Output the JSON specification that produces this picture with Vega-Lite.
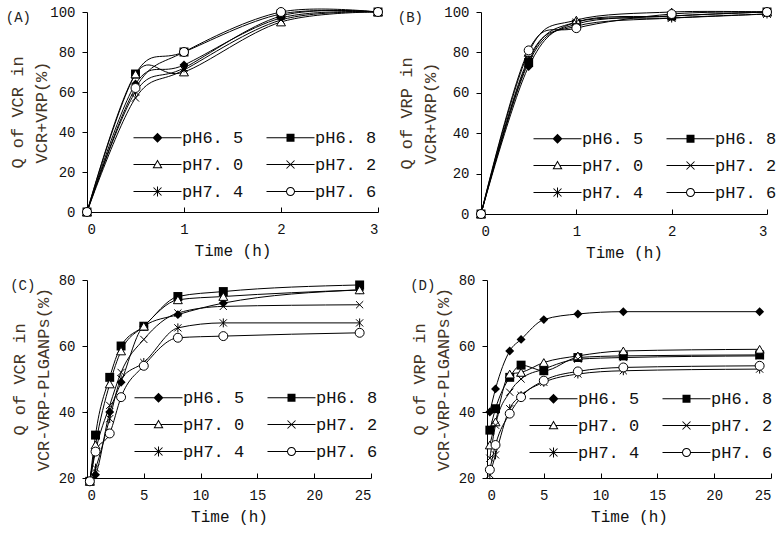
{
  "$schema": "https://vega.github.io/schema/vega-lite/v6.json",
  "background": "white",
  "padding": 5,
  "datasets": {
    "d": [
      {"panel":"A","pH":"pH6. 5","t":0,"q":0},{"panel":"A","pH":"pH6. 5","t":0.5,"q":64},{"panel":"A","pH":"pH6. 5","t":1,"q":73.5},{"panel":"A","pH":"pH6. 5","t":2,"q":97},{"panel":"A","pH":"pH6. 5","t":3,"q":100},
      {"panel":"A","pH":"pH6. 8","t":0,"q":0},{"panel":"A","pH":"pH6. 8","t":0.5,"q":69},{"panel":"A","pH":"pH6. 8","t":1,"q":80},{"panel":"A","pH":"pH6. 8","t":2,"q":99},{"panel":"A","pH":"pH6. 8","t":3,"q":100},
      {"panel":"A","pH":"pH7. 0","t":0,"q":0},{"panel":"A","pH":"pH7. 0","t":0.5,"q":69},{"panel":"A","pH":"pH7. 0","t":1,"q":70},{"panel":"A","pH":"pH7. 0","t":2,"q":95},{"panel":"A","pH":"pH7. 0","t":3,"q":100},
      {"panel":"A","pH":"pH7. 2","t":0,"q":0},{"panel":"A","pH":"pH7. 2","t":0.5,"q":57},{"panel":"A","pH":"pH7. 2","t":1,"q":71},{"panel":"A","pH":"pH7. 2","t":2,"q":96},{"panel":"A","pH":"pH7. 2","t":3,"q":100},
      {"panel":"A","pH":"pH7. 4","t":0,"q":0},{"panel":"A","pH":"pH7. 4","t":0.5,"q":60},{"panel":"A","pH":"pH7. 4","t":1,"q":72},{"panel":"A","pH":"pH7. 4","t":2,"q":98},{"panel":"A","pH":"pH7. 4","t":3,"q":100},
      {"panel":"A","pH":"pH7. 6","t":0,"q":0},{"panel":"A","pH":"pH7. 6","t":0.5,"q":62},{"panel":"A","pH":"pH7. 6","t":1,"q":80},{"panel":"A","pH":"pH7. 6","t":2,"q":100},{"panel":"A","pH":"pH7. 6","t":3,"q":100},

      {"panel":"B","pH":"pH6. 5","t":0,"q":0},{"panel":"B","pH":"pH6. 5","t":0.5,"q":73},{"panel":"B","pH":"pH6. 5","t":1,"q":95},{"panel":"B","pH":"pH6. 5","t":2,"q":98},{"panel":"B","pH":"pH6. 5","t":3,"q":100},
      {"panel":"B","pH":"pH6. 8","t":0,"q":0},{"panel":"B","pH":"pH6. 8","t":0.5,"q":75},{"panel":"B","pH":"pH6. 8","t":1,"q":94},{"panel":"B","pH":"pH6. 8","t":2,"q":98},{"panel":"B","pH":"pH6. 8","t":3,"q":100},
      {"panel":"B","pH":"pH7. 0","t":0,"q":0},{"panel":"B","pH":"pH7. 0","t":0.5,"q":80},{"panel":"B","pH":"pH7. 0","t":1,"q":96},{"panel":"B","pH":"pH7. 0","t":2,"q":100},{"panel":"B","pH":"pH7. 0","t":3,"q":100},
      {"panel":"B","pH":"pH7. 2","t":0,"q":0},{"panel":"B","pH":"pH7. 2","t":0.5,"q":77},{"panel":"B","pH":"pH7. 2","t":1,"q":93},{"panel":"B","pH":"pH7. 2","t":2,"q":97},{"panel":"B","pH":"pH7. 2","t":3,"q":99},
      {"panel":"B","pH":"pH7. 4","t":0,"q":0},{"panel":"B","pH":"pH7. 4","t":0.5,"q":76},{"panel":"B","pH":"pH7. 4","t":1,"q":95},{"panel":"B","pH":"pH7. 4","t":2,"q":97},{"panel":"B","pH":"pH7. 4","t":3,"q":99},
      {"panel":"B","pH":"pH7. 6","t":0,"q":0},{"panel":"B","pH":"pH7. 6","t":0.5,"q":81},{"panel":"B","pH":"pH7. 6","t":1,"q":92},{"panel":"B","pH":"pH7. 6","t":2,"q":99},{"panel":"B","pH":"pH7. 6","t":3,"q":100},

      {"panel":"C","pH":"pH6. 5","t":0.25,"q":19},{"panel":"C","pH":"pH6. 5","t":0.75,"q":21},{"panel":"C","pH":"pH6. 5","t":2,"q":40},{"panel":"C","pH":"pH6. 5","t":3,"q":49},{"panel":"C","pH":"pH6. 5","t":5,"q":66},{"panel":"C","pH":"pH6. 5","t":8,"q":69.5},{"panel":"C","pH":"pH6. 5","t":12,"q":73},{"panel":"C","pH":"pH6. 5","t":24,"q":77},
      {"panel":"C","pH":"pH6. 8","t":0.25,"q":19},{"panel":"C","pH":"pH6. 8","t":0.75,"q":33},{"panel":"C","pH":"pH6. 8","t":2,"q":50.5},{"panel":"C","pH":"pH6. 8","t":3,"q":60},{"panel":"C","pH":"pH6. 8","t":5,"q":66},{"panel":"C","pH":"pH6. 8","t":8,"q":75},{"panel":"C","pH":"pH6. 8","t":12,"q":76.5},{"panel":"C","pH":"pH6. 8","t":24,"q":78.5},
      {"panel":"C","pH":"pH7. 0","t":0.25,"q":19},{"panel":"C","pH":"pH7. 0","t":0.75,"q":30},{"panel":"C","pH":"pH7. 0","t":2,"q":48.5},{"panel":"C","pH":"pH7. 0","t":3,"q":58.5},{"panel":"C","pH":"pH7. 0","t":5,"q":66},{"panel":"C","pH":"pH7. 0","t":8,"q":74},{"panel":"C","pH":"pH7. 0","t":12,"q":75},{"panel":"C","pH":"pH7. 0","t":24,"q":77},
      {"panel":"C","pH":"pH7. 2","t":0.25,"q":19},{"panel":"C","pH":"pH7. 2","t":0.75,"q":28},{"panel":"C","pH":"pH7. 2","t":2,"q":42},{"panel":"C","pH":"pH7. 2","t":3,"q":52},{"panel":"C","pH":"pH7. 2","t":5,"q":62},{"panel":"C","pH":"pH7. 2","t":8,"q":70},{"panel":"C","pH":"pH7. 2","t":12,"q":72},{"panel":"C","pH":"pH7. 2","t":24,"q":72.5},
      {"panel":"C","pH":"pH7. 4","t":0.25,"q":19},{"panel":"C","pH":"pH7. 4","t":0.75,"q":23},{"panel":"C","pH":"pH7. 4","t":2,"q":38},{"panel":"C","pH":"pH7. 4","t":3,"q":50},{"panel":"C","pH":"pH7. 4","t":5,"q":55},{"panel":"C","pH":"pH7. 4","t":8,"q":65.5},{"panel":"C","pH":"pH7. 4","t":12,"q":67},{"panel":"C","pH":"pH7. 4","t":24,"q":67},
      {"panel":"C","pH":"pH7. 6","t":0.25,"q":19},{"panel":"C","pH":"pH7. 6","t":0.75,"q":28},{"panel":"C","pH":"pH7. 6","t":2,"q":33.5},{"panel":"C","pH":"pH7. 6","t":3,"q":44.5},{"panel":"C","pH":"pH7. 6","t":5,"q":54},{"panel":"C","pH":"pH7. 6","t":8,"q":62.5},{"panel":"C","pH":"pH7. 6","t":12,"q":63},{"panel":"C","pH":"pH7. 6","t":24,"q":64},

      {"panel":"D","pH":"pH6. 5","t":0.25,"q":40},{"panel":"D","pH":"pH6. 5","t":0.75,"q":47},{"panel":"D","pH":"pH6. 5","t":2,"q":58.5},{"panel":"D","pH":"pH6. 5","t":3,"q":62},{"panel":"D","pH":"pH6. 5","t":5,"q":68},{"panel":"D","pH":"pH6. 5","t":8,"q":69.7},{"panel":"D","pH":"pH6. 5","t":12,"q":70.4},{"panel":"D","pH":"pH6. 5","t":24,"q":70.4},
      {"panel":"D","pH":"pH6. 8","t":0.25,"q":34.5},{"panel":"D","pH":"pH6. 8","t":0.75,"q":41},{"panel":"D","pH":"pH6. 8","t":2,"q":50.5},{"panel":"D","pH":"pH6. 8","t":3,"q":54.2},{"panel":"D","pH":"pH6. 8","t":5,"q":52.5},{"panel":"D","pH":"pH6. 8","t":8,"q":56.5},{"panel":"D","pH":"pH6. 8","t":12,"q":57},{"panel":"D","pH":"pH6. 8","t":24,"q":57.3},
      {"panel":"D","pH":"pH7. 0","t":0.25,"q":30},{"panel":"D","pH":"pH7. 0","t":0.75,"q":37},{"panel":"D","pH":"pH7. 0","t":2,"q":51.5},{"panel":"D","pH":"pH7. 0","t":3,"q":52},{"panel":"D","pH":"pH7. 0","t":5,"q":55},{"panel":"D","pH":"pH7. 0","t":8,"q":57},{"panel":"D","pH":"pH7. 0","t":12,"q":58.5},{"panel":"D","pH":"pH7. 0","t":24,"q":59},
      {"panel":"D","pH":"pH7. 2","t":0.25,"q":26},{"panel":"D","pH":"pH7. 2","t":0.75,"q":36},{"panel":"D","pH":"pH7. 2","t":2,"q":46},{"panel":"D","pH":"pH7. 2","t":3,"q":50},{"panel":"D","pH":"pH7. 2","t":5,"q":53},{"panel":"D","pH":"pH7. 2","t":8,"q":56},{"panel":"D","pH":"pH7. 2","t":12,"q":56.5},{"panel":"D","pH":"pH7. 2","t":24,"q":57},
      {"panel":"D","pH":"pH7. 4","t":0.25,"q":21},{"panel":"D","pH":"pH7. 4","t":0.75,"q":27},{"panel":"D","pH":"pH7. 4","t":2,"q":41},{"panel":"D","pH":"pH7. 4","t":3,"q":45},{"panel":"D","pH":"pH7. 4","t":5,"q":49},{"panel":"D","pH":"pH7. 4","t":8,"q":51.5},{"panel":"D","pH":"pH7. 4","t":12,"q":52.5},{"panel":"D","pH":"pH7. 4","t":24,"q":53},
      {"panel":"D","pH":"pH7. 6","t":0.25,"q":22.5},{"panel":"D","pH":"pH7. 6","t":0.75,"q":30},{"panel":"D","pH":"pH7. 6","t":2,"q":39.5},{"panel":"D","pH":"pH7. 6","t":3,"q":44.5},{"panel":"D","pH":"pH7. 6","t":5,"q":49.5},{"panel":"D","pH":"pH7. 6","t":8,"q":52.3},{"panel":"D","pH":"pH7. 6","t":12,"q":53.5},{"panel":"D","pH":"pH7. 6","t":24,"q":54}
    ]
  },
  "vconcat": [
    {
      "hconcat": [
        {
          "title": {"text": "(A)", "dx": -3},
          "width": 291, "height": 200,
          "data": {"name": "d"},
          "transform": [{"filter": "datum.panel == 'A'"}],
          "encoding": {
            "x": {"field": "t", "type": "quantitative", "scale": {"domain": [0, 3]}, "axis": {"values": [0, 1, 2, 3], "title": "Time (h)"}},
            "y": {"field": "q", "type": "quantitative", "scale": {"domain": [0, 100]}, "axis": {"values": [0, 20, 40, 60, 80, 100], "title": ["Q of VCR in", "VCR+VRP(%)"], "titlePadding": -1}}
          },
          "layer": [
            {"mark": {"type": "line", "interpolate": "cardinal", "color": "black", "strokeWidth": 1}, "encoding": {"detail": {"field": "pH"}}},
            {"transform": [{"filter": "datum.pH == 'pH6. 5'"}], "mark": {"type": "point", "shape": "diamond", "filled": true, "color": "black", "size": 80, "opacity": 1}},
            {"transform": [{"filter": "datum.pH == 'pH6. 8'"}], "mark": {"type": "point", "shape": "square", "filled": true, "color": "black", "size": 80, "opacity": 1}},
            {"transform": [{"filter": "datum.pH == 'pH7. 0'"}], "mark": {"type": "point", "shape": "triangle-up", "filled": true, "fill": "white", "stroke": "black", "strokeWidth": 1, "size": 80, "opacity": 1}},
            {"transform": [{"filter": "datum.pH == 'pH7. 2'"}], "mark": {"type": "point", "shape": "M-0.8,-0.8L0.8,0.8M-0.8,0.8L0.8,-0.8", "filled": false, "stroke": "black", "strokeWidth": 1, "size": 80, "opacity": 1}},
            {"transform": [{"filter": "datum.pH == 'pH7. 4'"}], "mark": {"type": "point", "shape": "M0,-1V1M-0.8,-0.8L0.8,0.8M-0.8,0.8L0.8,-0.8", "filled": false, "stroke": "black", "strokeWidth": 1, "size": 80, "opacity": 1}},
            {"transform": [{"filter": "datum.pH == 'pH7. 6'"}], "mark": {"type": "point", "shape": "circle", "filled": true, "fill": "white", "stroke": "black", "strokeWidth": 1, "size": 80, "opacity": 1}},
            {"transform": [{"filter": "false"}],
             "mark": {"type": "point", "filled": true, "color": "black", "opacity": 1},
             "encoding": {
               "shape": {"field": "pH", "type": "nominal", "title": null, "scale": {"domain": ["pH6. 5","pH6. 8","pH7. 0","pH7. 2","pH7. 4","pH7. 6"], "range": [
                 "M-4.8,-0.1H4.8V0.1H-4.8ZM0,-1L1,0L0,1L-1,0Z",
                 "M-4.8,-0.1H4.8V0.1H-4.8ZM-0.8,-0.8H0.8V0.8H-0.8Z",
                 "M-4.8,-0.1H-0.52V0.1H-4.8ZM0.52,-0.1H4.8V0.1H0.52ZM0,-1L1,0.75H-1ZM0,-0.6L-0.655,0.55H0.655Z",
                 "M-4.8,-0.1H4.8V0.1H-4.8ZM-0.73,-0.87L0.87,0.73L0.73,0.87L-0.87,-0.73ZM-0.87,0.73L0.73,-0.87L0.87,-0.73L-0.73,0.87Z",
                 "M-4.8,-0.1H4.8V0.1H-4.8ZM-0.1,-1H0.1V1H-0.1ZM-0.73,-0.87L0.87,0.73L0.73,0.87L-0.87,-0.73ZM-0.87,0.73L0.73,-0.87L0.87,-0.73L-0.73,0.87Z",
                 "M-4.8,-0.1H-0.88V0.1H-4.8ZM0.88,-0.1H4.8V0.1H0.88ZM0.9,0A0.9,0.9 0 1,1 -0.9,0A0.9,0.9 0 1,1 0.9,0ZM0.7,0A0.7,0.7 0 1,0 -0.7,0A0.7,0.7 0 1,0 0.7,0Z"]},
                 "legend": {"orient": "none", "legendX": 38, "legendY": 117, "columns": 2, "direction": "horizontal"}}
             }}
          ]
        },
        {
          "title": {"text": "(B)"},
          "width": 286, "height": 202,
          "data": {"name": "d"},
          "transform": [{"filter": "datum.panel == 'B'"}],
          "encoding": {
            "x": {"field": "t", "type": "quantitative", "scale": {"domain": [0, 3]}, "axis": {"values": [0, 1, 2, 3], "title": "Time (h)"}},
            "y": {"field": "q", "type": "quantitative", "scale": {"domain": [0, 100]}, "axis": {"values": [0, 20, 40, 60, 80, 100], "title": ["Q of VRP in", "VCR+VRP(%)"], "titlePadding": 4}}
          },
          "layer": [
            {"mark": {"type": "line", "interpolate": "cardinal", "color": "black", "strokeWidth": 1}, "encoding": {"detail": {"field": "pH"}}},
            {"transform": [{"filter": "datum.pH == 'pH6. 5'"}], "mark": {"type": "point", "shape": "diamond", "filled": true, "color": "black", "size": 80, "opacity": 1}},
            {"transform": [{"filter": "datum.pH == 'pH6. 8'"}], "mark": {"type": "point", "shape": "square", "filled": true, "color": "black", "size": 80, "opacity": 1}},
            {"transform": [{"filter": "datum.pH == 'pH7. 0'"}], "mark": {"type": "point", "shape": "triangle-up", "filled": true, "fill": "white", "stroke": "black", "strokeWidth": 1, "size": 80, "opacity": 1}},
            {"transform": [{"filter": "datum.pH == 'pH7. 2'"}], "mark": {"type": "point", "shape": "M-0.8,-0.8L0.8,0.8M-0.8,0.8L0.8,-0.8", "filled": false, "stroke": "black", "strokeWidth": 1, "size": 80, "opacity": 1}},
            {"transform": [{"filter": "datum.pH == 'pH7. 4'"}], "mark": {"type": "point", "shape": "M0,-1V1M-0.8,-0.8L0.8,0.8M-0.8,0.8L0.8,-0.8", "filled": false, "stroke": "black", "strokeWidth": 1, "size": 80, "opacity": 1}},
            {"transform": [{"filter": "datum.pH == 'pH7. 6'"}], "mark": {"type": "point", "shape": "circle", "filled": true, "fill": "white", "stroke": "black", "strokeWidth": 1, "size": 80, "opacity": 1}},
            {"transform": [{"filter": "false"}],
             "mark": {"type": "point", "filled": true, "color": "black", "opacity": 1},
             "encoding": {
               "shape": {"field": "pH", "type": "nominal", "title": null, "scale": {"domain": ["pH6. 5","pH6. 8","pH7. 0","pH7. 2","pH7. 4","pH7. 6"], "range": [
                 "M-4.8,-0.1H4.8V0.1H-4.8ZM0,-1L1,0L0,1L-1,0Z",
                 "M-4.8,-0.1H4.8V0.1H-4.8ZM-0.8,-0.8H0.8V0.8H-0.8Z",
                 "M-4.8,-0.1H-0.52V0.1H-4.8ZM0.52,-0.1H4.8V0.1H0.52ZM0,-1L1,0.75H-1ZM0,-0.6L-0.655,0.55H0.655Z",
                 "M-4.8,-0.1H4.8V0.1H-4.8ZM-0.73,-0.87L0.87,0.73L0.73,0.87L-0.87,-0.73ZM-0.87,0.73L0.73,-0.87L0.87,-0.73L-0.73,0.87Z",
                 "M-4.8,-0.1H4.8V0.1H-4.8ZM-0.1,-1H0.1V1H-0.1ZM-0.73,-0.87L0.87,0.73L0.73,0.87L-0.87,-0.73ZM-0.87,0.73L0.73,-0.87L0.87,-0.73L-0.73,0.87Z",
                 "M-4.8,-0.1H-0.88V0.1H-4.8ZM0.88,-0.1H4.8V0.1H0.88ZM0.9,0A0.9,0.9 0 1,1 -0.9,0A0.9,0.9 0 1,1 0.9,0ZM0.7,0A0.7,0.7 0 1,0 -0.7,0A0.7,0.7 0 1,0 0.7,0Z"]},
                 "legend": {"orient": "none", "legendX": 44, "legendY": 118, "columns": 2, "direction": "horizontal"}}
             }}
          ]
        }
      ],
      "spacing": 12,
      "resolve": {"scale": {"shape": "independent"}, "legend": {"shape": "independent"}}
    },
    {
      "hconcat": [
        {
          "title": {"text": "(C)"},
          "width": 284, "height": 198,
          "data": {"name": "d"},
          "transform": [{"filter": "datum.panel == 'C'"}],
          "encoding": {
            "x": {"field": "t", "type": "quantitative", "scale": {"domain": [0, 25]}, "axis": {"values": [0, 5, 10, 15, 20, 25], "title": "Time (h)"}},
            "y": {"field": "q", "type": "quantitative", "scale": {"domain": [20, 80]}, "axis": {"values": [20, 40, 60, 80], "title": ["Q of VCR in", "VCR-VRP-PLGANPs(%)"], "titlePadding": 6}}
          },
          "layer": [
            {"mark": {"type": "line", "interpolate": "monotone", "color": "black", "strokeWidth": 1}, "encoding": {"detail": {"field": "pH"}}},
            {"transform": [{"filter": "datum.pH == 'pH6. 5'"}], "mark": {"type": "point", "shape": "diamond", "filled": true, "color": "black", "size": 80, "opacity": 1}},
            {"transform": [{"filter": "datum.pH == 'pH6. 8'"}], "mark": {"type": "point", "shape": "square", "filled": true, "color": "black", "size": 80, "opacity": 1}},
            {"transform": [{"filter": "datum.pH == 'pH7. 0'"}], "mark": {"type": "point", "shape": "triangle-up", "filled": true, "fill": "white", "stroke": "black", "strokeWidth": 1, "size": 80, "opacity": 1}},
            {"transform": [{"filter": "datum.pH == 'pH7. 2'"}], "mark": {"type": "point", "shape": "M-0.8,-0.8L0.8,0.8M-0.8,0.8L0.8,-0.8", "filled": false, "stroke": "black", "strokeWidth": 1, "size": 80, "opacity": 1}},
            {"transform": [{"filter": "datum.pH == 'pH7. 4'"}], "mark": {"type": "point", "shape": "M0,-1V1M-0.8,-0.8L0.8,0.8M-0.8,0.8L0.8,-0.8", "filled": false, "stroke": "black", "strokeWidth": 1, "size": 80, "opacity": 1}},
            {"transform": [{"filter": "datum.pH == 'pH7. 6'"}], "mark": {"type": "point", "shape": "circle", "filled": true, "fill": "white", "stroke": "black", "strokeWidth": 1, "size": 80, "opacity": 1}},
            {"transform": [{"filter": "false"}],
             "mark": {"type": "point", "filled": true, "color": "black", "opacity": 1},
             "encoding": {
               "shape": {"field": "pH", "type": "nominal", "title": null, "scale": {"domain": ["pH6. 5","pH6. 8","pH7. 0","pH7. 2","pH7. 4","pH7. 6"], "range": [
                 "M-4.8,-0.1H4.8V0.1H-4.8ZM0,-1L1,0L0,1L-1,0Z",
                 "M-4.8,-0.1H4.8V0.1H-4.8ZM-0.8,-0.8H0.8V0.8H-0.8Z",
                 "M-4.8,-0.1H-0.52V0.1H-4.8ZM0.52,-0.1H4.8V0.1H0.52ZM0,-1L1,0.75H-1ZM0,-0.6L-0.655,0.55H0.655Z",
                 "M-4.8,-0.1H4.8V0.1H-4.8ZM-0.73,-0.87L0.87,0.73L0.73,0.87L-0.87,-0.73ZM-0.87,0.73L0.73,-0.87L0.87,-0.73L-0.73,0.87Z",
                 "M-4.8,-0.1H4.8V0.1H-4.8ZM-0.1,-1H0.1V1H-0.1ZM-0.73,-0.87L0.87,0.73L0.73,0.87L-0.87,-0.73ZM-0.87,0.73L0.73,-0.87L0.87,-0.73L-0.73,0.87Z",
                 "M-4.8,-0.1H-0.88V0.1H-4.8ZM0.88,-0.1H4.8V0.1H0.88ZM0.9,0A0.9,0.9 0 1,1 -0.9,0A0.9,0.9 0 1,1 0.9,0ZM0.7,0A0.7,0.7 0 1,0 -0.7,0A0.7,0.7 0 1,0 0.7,0Z"]},
                 "legend": {"orient": "none", "legendX": 39, "legendY": 109, "columns": 2, "direction": "horizontal"}}
             }}
          ]
        },
        {
          "title": {"text": "(D)"},
          "width": 284, "height": 198,
          "data": {"name": "d"},
          "transform": [{"filter": "datum.panel == 'D'"}],
          "encoding": {
            "x": {"field": "t", "type": "quantitative", "scale": {"domain": [0, 25]}, "axis": {"values": [0, 5, 10, 15, 20, 25], "title": "Time (h)"}},
            "y": {"field": "q", "type": "quantitative", "scale": {"domain": [20, 80]}, "axis": {"values": [20, 40, 60, 80], "title": ["Q of VRP in", "VCR-VRP-PLGANPs(%)"], "titlePadding": 6}}
          },
          "layer": [
            {"mark": {"type": "line", "interpolate": "monotone", "color": "black", "strokeWidth": 1}, "encoding": {"detail": {"field": "pH"}}},
            {"transform": [{"filter": "datum.pH == 'pH6. 5'"}], "mark": {"type": "point", "shape": "diamond", "filled": true, "color": "black", "size": 80, "opacity": 1}},
            {"transform": [{"filter": "datum.pH == 'pH6. 8'"}], "mark": {"type": "point", "shape": "square", "filled": true, "color": "black", "size": 80, "opacity": 1}},
            {"transform": [{"filter": "datum.pH == 'pH7. 0'"}], "mark": {"type": "point", "shape": "triangle-up", "filled": true, "fill": "white", "stroke": "black", "strokeWidth": 1, "size": 80, "opacity": 1}},
            {"transform": [{"filter": "datum.pH == 'pH7. 2'"}], "mark": {"type": "point", "shape": "M-0.8,-0.8L0.8,0.8M-0.8,0.8L0.8,-0.8", "filled": false, "stroke": "black", "strokeWidth": 1, "size": 80, "opacity": 1}},
            {"transform": [{"filter": "datum.pH == 'pH7. 4'"}], "mark": {"type": "point", "shape": "M0,-1V1M-0.8,-0.8L0.8,0.8M-0.8,0.8L0.8,-0.8", "filled": false, "stroke": "black", "strokeWidth": 1, "size": 80, "opacity": 1}},
            {"transform": [{"filter": "datum.pH == 'pH7. 6'"}], "mark": {"type": "point", "shape": "circle", "filled": true, "fill": "white", "stroke": "black", "strokeWidth": 1, "size": 80, "opacity": 1}},
            {"transform": [{"filter": "false"}],
             "mark": {"type": "point", "filled": true, "color": "black", "opacity": 1},
             "encoding": {
               "shape": {"field": "pH", "type": "nominal", "title": null, "scale": {"domain": ["pH6. 5","pH6. 8","pH7. 0","pH7. 2","pH7. 4","pH7. 6"], "range": [
                 "M-4.8,-0.1H4.8V0.1H-4.8ZM0,-1L1,0L0,1L-1,0Z",
                 "M-4.8,-0.1H4.8V0.1H-4.8ZM-0.8,-0.8H0.8V0.8H-0.8Z",
                 "M-4.8,-0.1H-0.52V0.1H-4.8ZM0.52,-0.1H4.8V0.1H0.52ZM0,-1L1,0.75H-1ZM0,-0.6L-0.655,0.55H0.655Z",
                 "M-4.8,-0.1H4.8V0.1H-4.8ZM-0.73,-0.87L0.87,0.73L0.73,0.87L-0.87,-0.73ZM-0.87,0.73L0.73,-0.87L0.87,-0.73L-0.73,0.87Z",
                 "M-4.8,-0.1H4.8V0.1H-4.8ZM-0.1,-1H0.1V1H-0.1ZM-0.73,-0.87L0.87,0.73L0.73,0.87L-0.87,-0.73ZM-0.87,0.73L0.73,-0.87L0.87,-0.73L-0.73,0.87Z",
                 "M-4.8,-0.1H-0.88V0.1H-4.8ZM0.88,-0.1H4.8V0.1H0.88ZM0.9,0A0.9,0.9 0 1,1 -0.9,0A0.9,0.9 0 1,1 0.9,0ZM0.7,0A0.7,0.7 0 1,0 -0.7,0A0.7,0.7 0 1,0 0.7,0Z"]},
                 "legend": {"orient": "none", "legendX": 34, "legendY": 110, "columns": 2, "direction": "horizontal"}}
             }}
          ]
        }
      ],
      "spacing": 32,
      "resolve": {"scale": {"shape": "independent"}, "legend": {"shape": "independent"}}
    }
  ],
  "spacing": 13,
  "resolve": {"scale": {"shape": "independent"}, "legend": {"shape": "independent"}},
  "config": {
    "view": {"stroke": null},
    "font": "Liberation Mono",
    "title": {"anchor": "start", "frame": "bounds", "offset": -20, "fontSize": 14, "fontWeight": "normal", "font": "Liberation Mono", "color": "#222222"},
    "axis": {
      "grid": false, "domainColor": "black", "tickColor": "black", "domainWidth": 1, "tickWidth": 1,
      "labelFont": "Liberation Mono", "labelFontSize": 14, "labelColor": "#111111",
      "titleFont": "Liberation Mono", "titleFontSize": 16, "titleFontWeight": "normal", "titleColor": "#111111"
    },
    "axisX": {"tickSize": -5, "labelPadding": 15, "titlePadding": 6},
    "axisY": {"tickSize": 5, "labelPadding": 7, "titleFontSize": 17, "titleLineHeight": 24, "titleColor": "#433526"},
    "legend": {
      "labelFont": "Liberation Mono", "labelFontSize": 17, "labelColor": "#111111",
      "symbolSize": 100, "symbolStrokeWidth": 0, "symbolFillColor": "black",
      "symbolOffset": 24, "labelOffset": 16, "columnPadding": 14, "rowPadding": 9, "padding": 0
    }
  }
}
